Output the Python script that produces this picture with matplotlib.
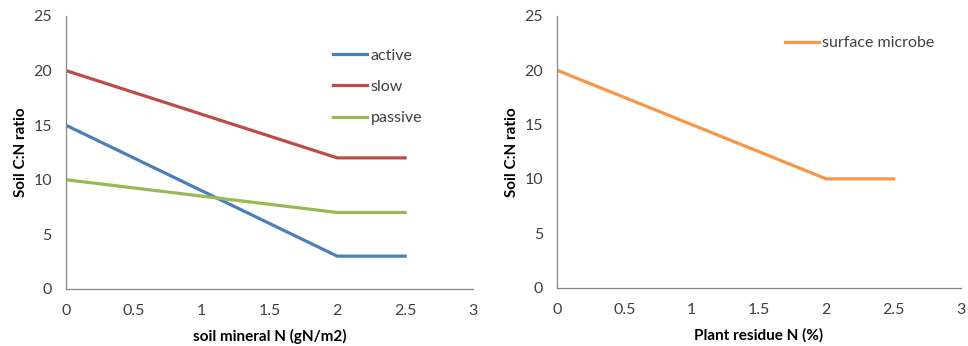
import matplotlib
matplotlib.use('Agg')
from matplotlib import pyplot as plt

# data
soil_n = [0, 0.5, 1, 1.5, 2, 2.5]
active = [15, 12, 9, 6, 3, 3]
slow = [20, 18, 16, 14, 12, 12]
passive = [10, 9.25, 8.5, 7.75, 7, 7]

residue_n = [0, 0.5, 1, 1.5, 2, 2.5]
surface = [20, 17.5, 15, 12.5, 10, 10]

x_ticks = [0, 0.5, 1, 1.5, 2, 2.5, 3]
x_tick_labels = ['0', '0.5', '1', '1.5', '2', '2.5', '3']
y_ticks = [0, 5, 10, 15, 20, 25]

plt.rcParams['font.family'] = ['Lato', 'DejaVu Sans']
fig = plt.figure(figsize=(9.68, 3.46), dpi=100)
ax1 = fig.add_axes([0.0679, 0.165, 0.4207, 0.789])
ax2 = fig.add_axes([0.5754, 0.169, 0.4174, 0.785])

gray = '#868686'
txt = '#404040'
fs = 11.5


def style(ax, xlabel):
    ax.set_xlim(0, 3)
    ax.set_ylim(0, 25)
    ax.set_xticks(x_ticks)
    ax.set_xticklabels(x_tick_labels)
    ax.set_yticks(y_ticks)
    for s in ['top', 'right']:
        ax.spines[s].set_visible(False)
    for s in ['left', 'bottom']:
        ax.spines[s].set_color(gray)
        ax.spines[s].set_linewidth(0.9)
    ax.tick_params(length=0, labelsize=fs, labelcolor=txt, pad=11)
    ax.tick_params(axis='y', pad=10)
    ax.set_xlabel(xlabel, fontsize=fs - 0.5, fontweight='bold', color='black', labelpad=8)
    ax.set_ylabel('Soil C:N ratio', fontsize=fs - 0.5, fontweight='bold', color='black', labelpad=4)


ax1.plot(soil_n, active, color='#4A7EBB', lw=2.3, label='active')
ax1.plot(soil_n, slow, color='#BE4B48', lw=2.3, label='slow')
ax1.plot(soil_n, passive, color='#98B954', lw=2.3, label='passive')
style(ax1, 'soil mineral N (gN/m2)')
ax1.legend(loc='upper left', bbox_to_anchor=(0.637, 0.91), frameon=False,
           fontsize=fs, handlelength=2.15, handletextpad=0.2,
           labelspacing=1.07, borderpad=0, labelcolor=txt)

ax2.plot(residue_n, surface, color='#F79646', lw=2.3, label='surface microbe')
style(ax2, 'Plant residue N (%)')
ax2.legend(loc='upper left', bbox_to_anchor=(0.544, 0.955), frameon=False,
           fontsize=fs, handlelength=2.15, handletextpad=0.2,
           borderpad=0, labelcolor=txt)

fig.savefig('out.png', dpi=100)
